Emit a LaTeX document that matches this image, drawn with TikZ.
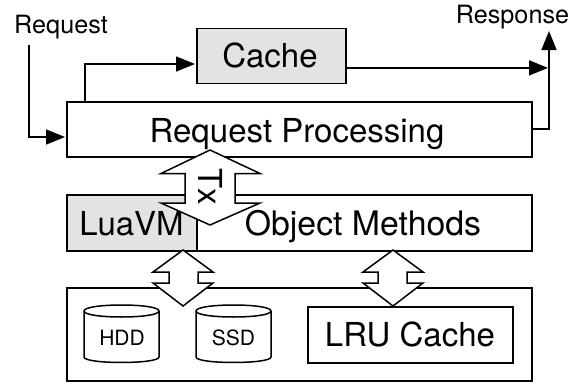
\documentclass[tikz,border=0pt]{standalone}
\usepackage{fontspec}
\setmainfont{TeX Gyre Heros}
\usetikzlibrary{arrows.meta}
\tikzset{
  x=1pt,y=-1pt,
  box/.style={draw=black,line width=1.5pt,inner sep=0pt,anchor=north west},
  big/.style={font=\fontsize{33}{36}\selectfont,anchor=base,inner sep=0pt},
  small/.style={font=\fontsize{25.2}{28}\selectfont,anchor=base,inner sep=0pt},
  tiny/.style={font=\fontsize{21}{24}\selectfont,anchor=base,inner sep=0pt},
  conn/.style={line width=1.5pt,-{Triangle[length=19pt,width=15pt]}},
  plain/.style={line width=1.5pt},
  gray box/.style={fill=black!11},
  blockarrow/.style={draw=black,fill=white,line width=1.5pt,line join=miter},
}
\begin{document}
\begin{tikzpicture}
\useasboundingbox (0,0) rectangle (576,383);
% boxes
\node[box,gray box,minimum width=149pt,minimum height=55pt] (cache) at (196,27.5) {};
\node[big] (cachet) at (270,67) {Cache};
\node[box,minimum width=465pt,minimum height=55pt] (rp) at (66,101) {};
\node[big] (rpt) at (297,142) {Request Processing};
\node[box,minimum width=465pt,minimum height=56pt] (om) at (66,194) {};
\node[box,gray box,minimum width=130pt,minimum height=56pt] (lua) at (66,194) {};
\node[big] (luat) at (131.5,235) {LuaVM};
\node[big,font=\fontsize{33.8}{36}\selectfont] (omt) at (363,235) {Object Methods};
\node[box,minimum width=465pt,minimum height=93pt] (store) at (66,287) {};
\node[box,minimum width=205pt,minimum height=56pt] (lru) at (307,306) {};
\node[big] (lrut) at (410,346) {LRU Cache};
% cylinders
\draw[plain,fill=white] (84,311) -- (84,357) .. controls (84,364.3) and (159,364.3) .. (159,357) -- (159,311) .. controls (159,303) and (84,303) .. (84,311) -- cycle;
\draw[plain] (84,311) .. controls (84,319) and (159,319) .. (159,311);
\draw[plain,fill=white] (196,311) -- (196,357) .. controls (196,364.3) and (271,364.3) .. (271,357) -- (271,311) .. controls (271,303) and (196,303) .. (196,311) -- cycle;
\draw[plain] (196,311) .. controls (196,319) and (271,319) .. (271,311);
\node[tiny] (hdd) at (122,345) {HDD};
\node[tiny] (ssd) at (233.5,345) {SSD};
% block arrows
\path[blockarrow] (210,150) -- (260,173.5) -- (235,173.5) -- (235,203) -- (260,203) -- (210,225) -- (161,203) -- (185,203) -- (185,173.5) -- (161,173.5) -- cycle;
\node[big,rotate=-90] (tx) at (198,187) {Tx};
\path[blockarrow] (183,250) -- (213,272) -- (198,272) -- (198,283) -- (213,283) -- (183,306) -- (153,283) -- (169,283) -- (169,272) -- (153,272) -- cycle;
\path[blockarrow] (393,250) -- (423,272) -- (407,272) -- (407,283) -- (423,283) -- (393,306) -- (363,283) -- (378,283) -- (378,272) -- (363,272) -- cycle;
% labels
\node[small] (req) at (61,33) {Request};
\node[small] (resp) at (512.5,23) {Response};
% connectors
\coordinate (reqs) at (29,45);
\coordinate (rpin) at (65,137);
\draw[conn] (reqs) |- (rpin);
\coordinate (rpt1) at (85,101);
\coordinate (cachein) at (195,64);
\draw[conn] (rpt1) |- (cachein);
\coordinate (cacheout) at (345,67.9);
\coordinate (join) at (548,67.9);
\draw[conn] (cacheout) -- (join);
\coordinate (rpout) at (531,129);
\coordinate (up) at (549,31);
\draw[conn] (rpout) -| (up);
\end{tikzpicture}
\end{document}
